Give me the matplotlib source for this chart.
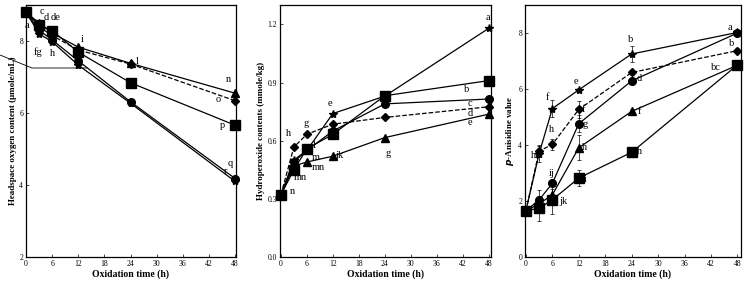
import matplotlib
matplotlib.use("Agg")
import matplotlib.pyplot as plt
from matplotlib.lines import Line2D

plt.rcParams['font.family'] = ['Liberation Serif', 'DejaVu Serif']

hours = [0, 3, 6, 12, 24, 48]

# headspace oxygen (umole/mL)
o2_star = [8.8, 8.2, 7.98, 7.33, 6.27, 4.1]
o2_circle = [8.8, 8.3, 8.03, 7.45, 6.31, 4.18]
o2_triangle = [8.8, 8.5, 8.22, 7.83, 7.38, 6.55]
o2_diamond = [8.8, 8.4, 8.15, 7.75, 7.36, 6.34]
o2_square = [8.8, 8.45, 8.29, 7.69, 6.84, 5.66]

# hydroperoxide (mmole/kg)
hp_star = [0.32, 0.50, 0.55, 0.74, 0.83, 1.18]
hp_circle = [0.32, 0.49, 0.55, 0.65, 0.79, 0.815]
hp_triangle = [0.32, 0.47, 0.49, 0.52, 0.616, 0.737]
hp_diamond = [0.32, 0.567, 0.633, 0.685, 0.72, 0.775]
hp_square = [0.32, 0.45, 0.558, 0.633, 0.832, 0.91]

# p-anisidine value
pa_star = [1.65, 3.69, 5.3, 5.97, 7.25, 8.02]
pa_circle = [1.65, 2.04, 2.63, 4.76, 6.29, 8.0]
pa_triangle = [1.65, 1.9, 2.22, 3.9, 5.2, 6.85]
pa_diamond = [1.65, 3.78, 4.02, 5.27, 6.59, 7.37]
pa_square = [1.65, 1.74, 2.04, 2.82, 3.74, 6.86]
pa_star_err = [0, 0.3, 0.3, 0.05, 0.3, 0.1]
pa_circle_err = [0, 0.35, 0.1, 0.3, 0.1, 0.1]
pa_triangle_err = [0, 0.2, 0.2, 0.45, 0.1, 0.1]
pa_diamond_err = [0, 0.2, 0.2, 0.3, 0.1, 0.1]
pa_square_err = [0, 0.45, 0.5, 0.3, 0.1, 0.1]

o2_labels = [("a", 27, 25), ("c", 42, 12), ("d", 46, 17), ("de", 56, 18), ("fg", 38, 52),
             ("h", 53, 53), ("i", 82, 40), ("l", 137, 61), ("n", 228, 80), ("o", 218, 99),
             ("p", 222, 126), ("q", 230, 163), ("r", 226, 171)]
hp_labels = [("a", 488, 18), ("b", 467, 89), ("c", 470, 103), ("d", 470, 113), ("e", 470, 122),
             ("g", 388, 154), ("e", 330, 104), ("g", 306, 123), ("h", 289, 133), ("n", 292, 192),
             ("mn", 300, 178), ("jk", 339, 156), ("l", 314, 146), ("m", 316, 157), ("mn", 318, 167)]
pa_labels = [("a", 730, 27), ("b", 732, 43), ("bc", 716, 67), ("b", 631, 40), ("e", 576, 82),
             ("f", 547, 98), ("h", 552, 130), ("hi", 535, 155), ("ij", 552, 173), ("jk", 563, 202),
             ("d", 639, 78), ("f", 583, 110), ("g", 585, 125), ("h", 585, 147), ("f", 639, 112),
             ("h", 640, 152), ("i", 585, 180)]

W, H = 747, 282
fig = plt.figure(figsize=(W / 100, H / 100), dpi=100)


def panel(px_left, px_right, xlim, ylim, yticks, series, errs, ylabel, labels):
    ax = fig.add_axes([px_left / W, 1 - 257 / H, (px_right - px_left) / W, 252 / H])
    styles = [("*", 6, "-"), ("o", 5.5, "-"), ("^", 6, "-"), ("D", 4.5, "--"), ("s", 7, "-")]
    for i, (ys, (m, ms, ls)) in enumerate(zip(series, styles)):
        err = errs[i] if errs else None
        ax.errorbar(hours, ys, yerr=err, color="black", marker=m, ms=ms, ls=ls, lw=0.9,
                    elinewidth=0.5, capsize=1.5, capthick=0.5, clip_on=False, zorder=3)
    ax.set_xlim(*xlim)
    ax.set_ylim(*ylim)
    ax.set_xticks(range(0, 49, 6))
    ax.set_yticks(yticks)
    ax.tick_params(labelsize=5.5, direction="in", length=2, width=0.5, pad=2)
    ax.set_xlabel("Oxidation time (h)", fontsize=7, fontweight="bold", labelpad=1)
    ax.set_ylabel(ylabel, fontsize=6.5, fontweight="bold", labelpad=2)
    for sp in ax.spines.values():
        sp.set_linewidth(0.9)
    for txt, x, y in labels:
        fig.text(x / W, 1 - y / H, txt, fontsize=7.5, ha="center", va="center")
    return ax


panel(26, 236, (0, 48.2), (2, 9), [2, 4, 6, 8],
      [o2_star, o2_circle, o2_triangle, o2_diamond, o2_square], None,
      "Headspace oxygen content (\u03bcmole/mL)", o2_labels)
panel(280, 491, (-0.2, 48.5), (0, 1.3), [0.0, 0.3, 0.6, 0.9, 1.2],
      [hp_star, hp_circle, hp_triangle, hp_diamond, hp_square], None,
      "Hydroperoxide contents (mmole/kg)", hp_labels)
panel(525, 741, (-0.2, 48.8), (0, 9), [0, 2, 4, 6, 8],
      [pa_star, pa_circle, pa_triangle, pa_diamond, pa_square],
      [pa_star_err, pa_circle_err, pa_triangle_err, pa_diamond_err, pa_square_err],
      "$\\mathbfit{p}$-Anisidine value", pa_labels)

# stray callout line in the first panel
fig.add_artist(Line2D([0, 32 / W, 87 / W], [1 - 55 / H, 1 - 68 / H, 1 - 68 / H],
                      color="black", lw=0.6))

fig.savefig("out.png", dpi=100)
